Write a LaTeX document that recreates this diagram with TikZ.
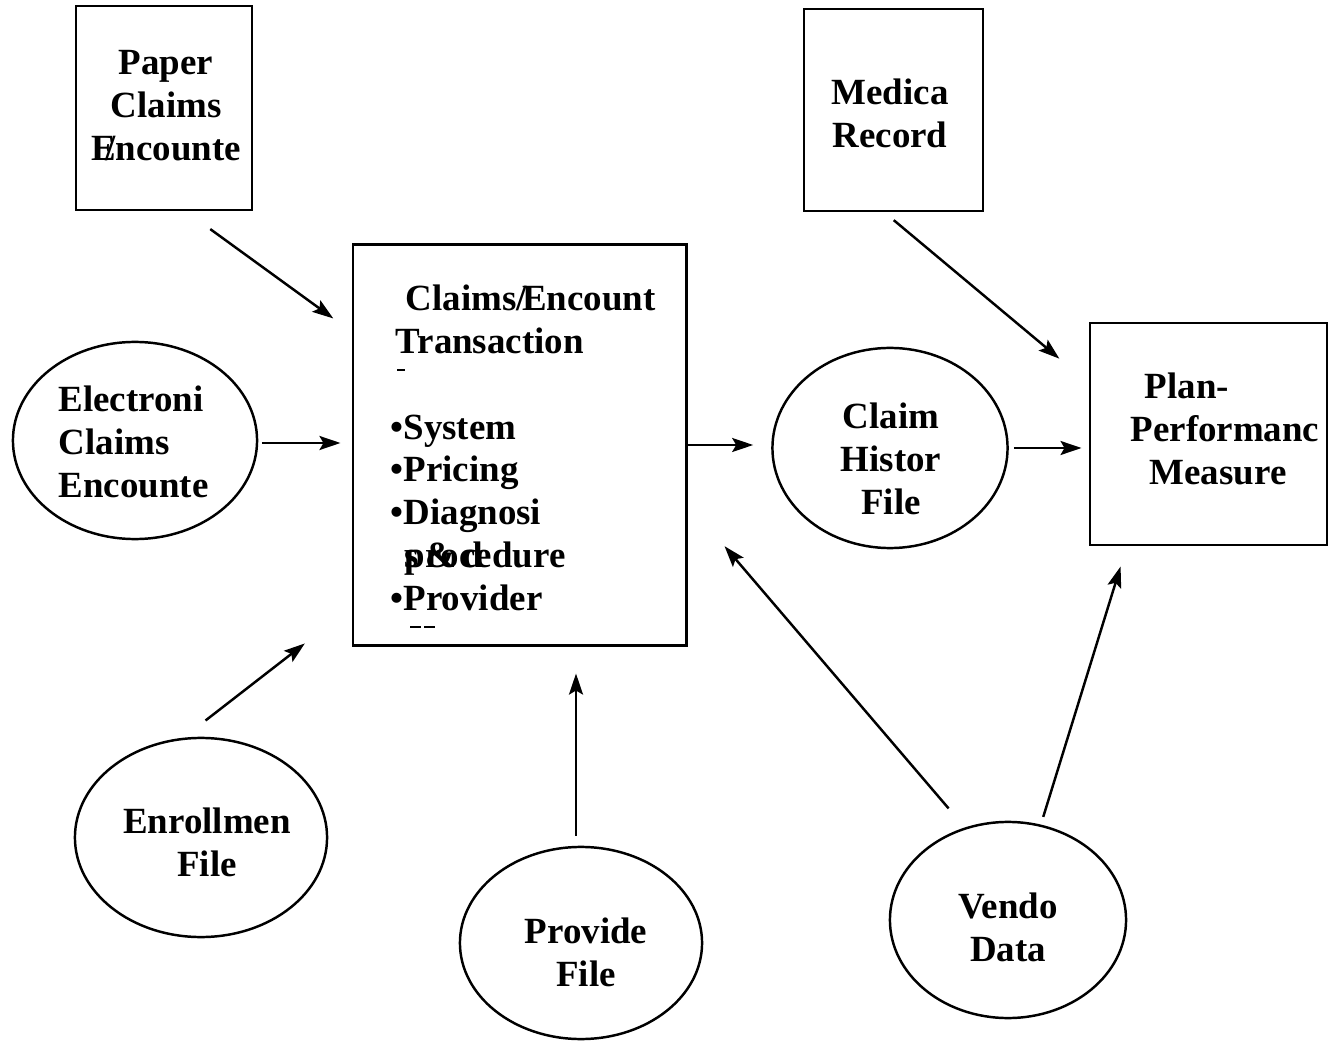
\documentclass[tikz,border=0pt]{standalone}
\usepackage{fontspec}
\setmainfont{Liberation Serif}
\usetikzlibrary{shapes.geometric,arrows.meta}

\begin{document}
\begin{tikzpicture}[x=0.01cm,y=-0.01cm,
        box/.style={draw, line width=0.8pt, rectangle, inner sep=0pt},
        oval/.style={draw, line width=0.7pt, ellipse, inner sep=0pt},
        txt/.style={inner sep=0pt, align=center, font=\fontsize{10.5pt}{12.2pt}\selectfont\bfseries},
        flow/.style={line width=0.7pt, -{Stealth[length=0.21cm,width=0.14cm,inset=0.04cm]}}]
        \useasboundingbox (0,0) rectangle (1330,1046);

        % Boxes.
        \node[box, minimum width=1.76cm, minimum height=2.04cm] (paper) at (164,108) {};
        \node[box, minimum width=1.79cm, minimum height=2.02cm] (medica) at (893.5,110) {};
        \node[box, minimum width=3.33cm, minimum height=4.00cm] (trans) at (519.5,445) {};
        \node[box, minimum width=2.37cm, minimum height=2.22cm] (plan) at (1208.5,434) {};

        % Ovals.
        \node[oval, minimum width=2.44cm, minimum height=1.97cm] (elec) at (135,440.5) {};
        \node[oval, minimum width=2.35cm, minimum height=2.00cm] (claim) at (890,448) {};
        \node[oval, minimum width=2.52cm, minimum height=1.99cm] (enroll) at (201,837.5) {};
        \node[oval, minimum width=2.42cm, minimum height=1.92cm] (provide) at (581,943) {};
        \node[oval, minimum width=2.36cm, minimum height=1.96cm] (vendo) at (1008,920) {};

        % Texts.
        \node[txt] (paper-t) at (166,106) {Paper\\Claims\\E\llap{/}ncounte};
        \node[txt] (medica-t) at (890,113) {Medica\\Record};
        \node[txt, align=left, anchor=west] (elec-t) at (58,442) {Electroni\\Claims\\Encounte};
        \node[txt] (claim-t) at (891,459) {Claim\\Histor\\File};
        \node[txt] (enroll-t) at (207,842) {Enrollmen\\File};
        \node[txt] (provide-t) at (586,952) {Provide\\File};
        \node[txt] (vendo-t) at (1008,927) {Vendo\\Data};
        \node[txt, align=left, anchor=west] (plan-t) at (1130,429) {\hspace*{0.14cm}Plan-\\Performanc\\\hspace*{0.19cm}Measure};
        \node[txt, align=left, anchor=north west] (trans-t) at (390,284)
            {\hspace*{0.15cm}Claims/\kern-0.12em Encount\\\hspace*{0.05cm}Transaction\\[12.2pt]
             •System\\•Pricing\\•Diagnosi\\\hspace*{0.14cm}\rlap{s\,\&\,d}procedure\\•Provider};
        \draw[line width=0.6pt] (397,370) -- (405,370);
        \draw[line width=0.6pt, dash pattern=on 3pt off 1pt] (410,627) -- (437,627);

        % Arrows.
        \draw[flow, shorten <=0.3cm, shorten >=0.225cm] (paper.-78) -- (trans.146.7);
        \draw[flow, shorten <=1pt, shorten >=0.11cm] ([yshift=-0.025cm]elec.east) -- ([yshift=-0.025cm]elec.east -| trans.west);
        \draw[flow, shorten <=0.28cm, shorten >=0.59cm] (enroll.100) -- (trans.-136.7);
        \draw[flow, shorten <=0.1cm, shorten >=0.27cm] ([xshift=-0.05cm]provide.north) -- ([xshift=-0.05cm]provide.north |- trans.south);
        \draw[flow, shorten >=0.18cm] (trans.east) -- (trans.east -| claim.west);
        \draw[flow, shorten <=0.05cm, shorten >=0.07cm] (claim.east) -- (claim.east -| plan.west);
        \draw[flow, shorten <=0.12cm, shorten >=0.38cm] (medica.-95) -- (plan.157.3);
        \draw[flow, shorten <=0.25cm, shorten >=0.57cm] (vendo.115) -- (trans.-19.8);
        \draw[flow, shorten <=0.08cm, shorten >=0.21cm] (vendo.71) -- (plan.-126.2);
    \end{tikzpicture}
\end{document}
